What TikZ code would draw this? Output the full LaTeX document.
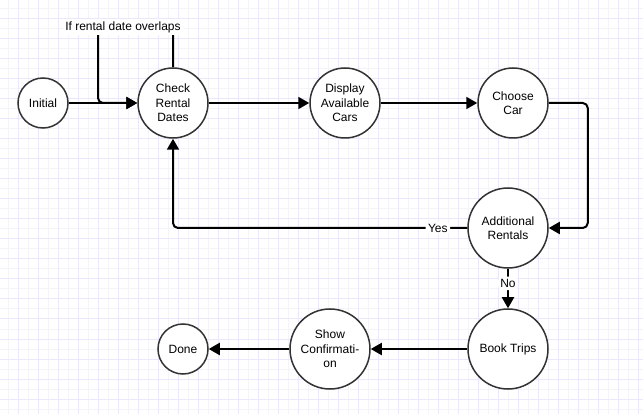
\documentclass[tikz,border=0pt]{standalone}
\usepackage{fontspec}
\setmainfont{Liberation Sans}
\usetikzlibrary{arrows.meta}
\definecolor{gridmajor}{RGB}{234,232,252}
\definecolor{gridminor}{RGB}{243,243,248}
\definecolor{ringgray}{RGB}{51,51,51}
\tikzset{
	statenode/.style={circle, draw=ringgray, line width=1.5pt, fill=white, inner sep=0pt, align=center, font=\fontsize{12}{14.5}\selectfont},
	flow/.style={line width=2pt, rounded corners=5pt, -{Triangle[length=11pt,width=12pt]}},
	edgelabel/.style={fill=white, inner sep=2.5pt, font=\fontsize{12}{14}\selectfont}
}
\begin{document}
\begin{tikzpicture}[x=1pt,y=-1pt]
	\useasboundingbox (0,0) rectangle (643,414);
	% grid
	\foreach \gx in {8,28,...,628} \draw[gridminor, line width=1pt] (\gx,0) -- (\gx,414);
	\foreach \gy in {9,29,...,409} \draw[gridminor, line width=1pt] (0,\gy) -- (643,\gy);
	\foreach \gx in {18,38,...,638} \draw[gridmajor, line width=1pt] (\gx,0) -- (\gx,414);
	\foreach \gy in {19,39,...,399} \draw[gridmajor, line width=1pt] (0,\gy) -- (643,\gy);
	% states
	\node[statenode, minimum size=50pt] (E1) at (43,103) {Initial};
	\node[statenode, minimum size=70pt] (E2) at (173,103) {Check\\Rental\\Dates};
	\node[statenode, minimum size=70pt] (E3) at (345,103) {Display\\Available\\Cars};
	\node[statenode, minimum size=70pt] (E4) at (513,103) {Choose\\Car};
	\node[statenode, minimum size=80pt] (E5) at (508,228) {Additional\\Rentals};
	\node[statenode, minimum size=80pt] (E6) at (508,349) {Book Trips};
	\node[statenode, minimum size=80pt] (E7) at (330,349) {Show\\Confirmati-\\on};
	\node[statenode, minimum size=50pt] (E8) at (183,349) {Done};
	% bends
	\node[shape=coordinate] at ([yshift=40pt]E2.north) (P1) {};
	\node[shape=coordinate] at ([xshift=-75pt]P1) (P2) {};
	\node[shape=coordinate] at ([xshift=39pt]E4.east) (P3) {};
	% transitions
	\draw[flow] (E1.east) -- (E2.west);
	\draw[flow] (E2.north) -- (P1) -- (P2) |- (E2.west);
	\path (P1) -- (P2) node[edgelabel, pos=0.667] (L1) {If rental date overlaps};
	\draw[flow] (E2.east) -- (E3.west);
	\draw[flow] (E3.east) -- (E4.west);
	\draw[flow] (E4.east) -- (P3) |- (E5.east);
	\draw[flow] (E5.west) -| (E2.south) node[edgelabel, pos=0.05] (L2) {Yes};
	\draw[flow] (E5.south) -- (E6.north) node[edgelabel, pos=0.37] (L3) {No};
	\draw[flow] (E6.west) -- (E7.east);
	\draw[flow] (E7.west) -- (E8.east);
\end{tikzpicture}
\end{document}
